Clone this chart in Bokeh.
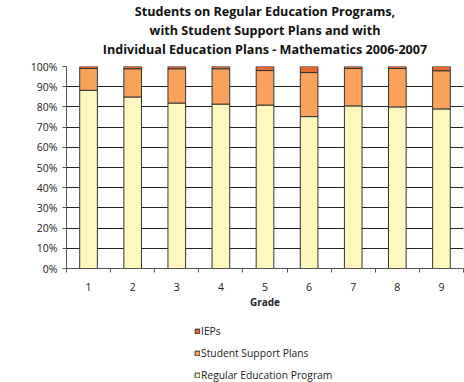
from bokeh.plotting import figure
from bokeh.layouts import column
from bokeh.models import (ColumnDataSource, FixedTicker, Legend, LegendItem,
                          Title, CustomJSTickFormatter)
from bokeh.embed import file_html
from bokeh.resources import INLINE

grades = ["1", "2", "3", "4", "5", "6", "7", "8", "9"]
regular = [88.2, 84.9, 81.9, 81.4, 80.9, 75.2, 80.5, 80.0, 79.0]
support = [10.8, 14.0, 17.0, 17.5, 17.1, 21.8, 18.5, 19.0, 18.9]
ieps = [1.0, 1.1, 1.1, 1.1, 2.0, 3.0, 1.0, 1.0, 2.1]
y_ticks = [0, 10, 20, 30, 40, 50, 60, 70, 80, 90, 100]
series_names = ["Regular Education Program", "Student Support Plans", "IEPs"]
colors = ["#FFF8BE", "#F9A25C", "#E8692D"]
title_lines = ["Students on Regular Education Programs,",
               "with Student Support Plans and with",
               "Individual Education Plans - Mathematics 2006-2007"]

FONT = "Open Sans"
LC = "#333333"
x = list(range(1, len(grades) + 1))
b1 = regular
b2 = [r + s for r, s in zip(regular, support)]
b3 = [a + i for a, i in zip(b2, ieps)]
src = ColumnDataSource(dict(x=x, z=[0] * len(x), b1=b1, b2=b2, b3=b3))

p = figure(width=464, height=311, output_backend="svg", toolbar_location=None,
           x_range=(0.5, 9.5), y_range=(0, 100), min_border_left=66, min_border_right=1,
           min_border_top=0, min_border_bottom=0)
p.title = None
# spacer between frame and title block
p.add_layout(Title(text=" ", text_font_size="7px", standoff=0), "above")
for t in reversed(title_lines):
    p.add_layout(Title(text=t, align="center", text_font=FONT, text_font_size="12.6px",
                       text_font_style="bold", text_color="#111111", standoff=0), "above")

p.vbar(x="x", bottom="z", top="b1", width=0.4, source=src, fill_color=colors[0], line_color=LC)
p.vbar(x="x", bottom="b1", top="b2", width=0.4, source=src, fill_color=colors[1], line_color=LC)
p.vbar(x="x", bottom="b2", top="b3", width=0.4, source=src, fill_color=colors[2], line_color=LC)

p.xgrid.visible = False
p.ygrid.ticker = FixedTicker(ticks=y_ticks)
p.ygrid.grid_line_color = "#222222"
p.ygrid.grid_line_width = 1
p.outline_line_color = None

p.xaxis.ticker = FixedTicker(ticks=x, minor_ticks=[v + 0.5 for v in [0] + x])
p.xaxis.major_label_overrides = {k: g for k, g in zip(x, grades)}
p.xaxis.major_tick_line_color = None
p.xaxis.minor_tick_out = 4
p.xaxis.minor_tick_in = 0
p.xaxis.minor_tick_line_color = "#555555"
p.xaxis.axis_line_color = "#555555"
p.xaxis.axis_label = "Grade"
p.xaxis.axis_label_text_font = FONT
p.xaxis.axis_label_text_font_size = "10px"
p.xaxis.axis_label_text_font_style = "bold"
p.xaxis.axis_label_standoff = 1
p.xaxis.major_label_text_font = FONT
p.xaxis.major_label_text_font_size = "10.5px"
p.xaxis.major_label_standoff = 8

p.yaxis.ticker = FixedTicker(ticks=y_ticks)
p.yaxis.formatter = CustomJSTickFormatter(code="return tick + '%';")
p.yaxis.minor_tick_line_color = None
p.yaxis.major_tick_out = 4
p.yaxis.major_tick_in = 0
p.yaxis.axis_line_color = "#555555"
p.yaxis.major_tick_line_color = "#555555"
p.yaxis.major_label_text_font = FONT
p.yaxis.major_label_text_font_size = "10.5px"
p.yaxis.major_label_standoff = 5

for ax in (p.xaxis, p.yaxis):
    ax.major_label_text_color = "#222222"
    ax.axis_label_text_color = "#222222"

# legend strip below the chart (swatches come from placeholder renderers with no visible data)
lg = figure(width=464, height=71, output_backend="svg", toolbar_location=None,
            x_range=(0, 1), y_range=(0, 1), min_border=0,
            x_axis_location=None, y_axis_location=None)
lg.grid.visible = False
lg.outline_line_color = None
placeholder = ColumnDataSource(dict(x=[float("nan")], top=[float("nan")]))
rs = [lg.vbar(x="x", top="top", width=0.1, source=placeholder, fill_color=c, line_color=LC)
      for c in colors]
legend = Legend(items=[LegendItem(label=series_names[i], renderers=[rs[i]]) for i in (2, 1, 0)],
                orientation="vertical", location=(128, 0), border_line_color=None,
                background_fill_alpha=0, label_text_font=FONT, label_text_font_size="10.3px",
                glyph_width=6, glyph_height=6, label_standoff=1, spacing=7,
                padding=0, margin=0, label_height=15, label_text_color="#222222")
lg.add_layout(legend, "center")

open("out.html", "w").write(file_html(column(p, lg, spacing=0), INLINE))
